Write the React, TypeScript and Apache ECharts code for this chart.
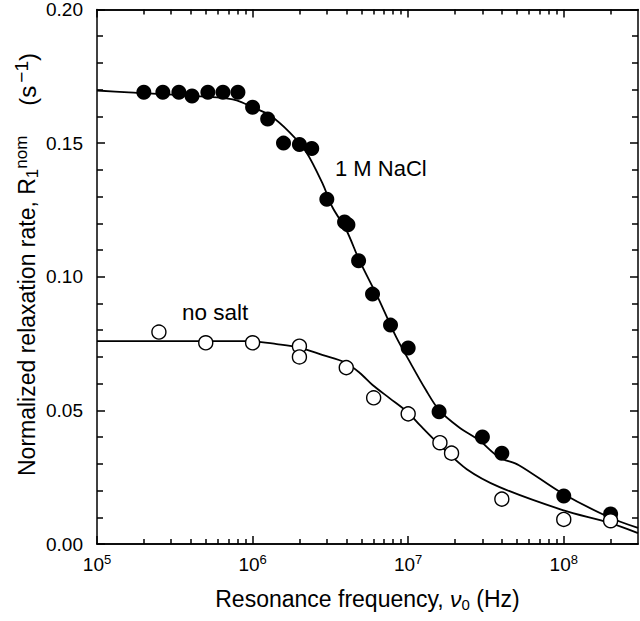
import React, { useEffect, useRef } from "react";
import * as echarts from "echarts";

// ---- Data ----
const naclFreq = [2e5, 2.65e5, 3.36e5, 4.08e5, 5.16e5, 6.45e5, 8.05e5, 1e6, 1.25e6, 1.58e6, 2e6, 2.4e6, 3e6, 3.9e6, 4.1e6, 4.8e6, 5.9e6, 7.7e6, 1e7, 1.58e7, 3e7, 4e7, 1e8, 2e8];
const naclRate = [0.169, 0.169, 0.169, 0.1676, 0.169, 0.169, 0.169, 0.1634, 0.159, 0.150, 0.1495, 0.148, 0.129, 0.1205, 0.1195, 0.106, 0.0935, 0.0819, 0.0733, 0.0495, 0.040, 0.034, 0.018, 0.0112];

const saltFreq = [2.5e5, 5e5, 1e6, 2e6, 2e6, 4e6, 6e6, 1e7, 1.6e7, 1.9e7, 4e7, 1e8, 2e8];
const saltRate = [0.0793, 0.0753, 0.0753, 0.074, 0.070, 0.066, 0.0547, 0.0487, 0.0379, 0.034, 0.0168, 0.0092, 0.0087];

const naclFitFreq = [1e5, 1.6e5, 5.9e5, 7.9e5, 1e6, 1.29e6, 1.73e6, 2.22e6, 2.81e6, 3.26e6, 4.01e6, 4.85e6, 6.05e6, 6.52e6, 8.38e6, 1.01e7, 1.3e7, 1.58e7, 2.12e7, 2.85e7, 3.83e7, 5.15e7, 9.7e7, 1.94e8, 3e8];
const naclFitRate = [0.1697, 0.169, 0.1671, 0.166, 0.1634, 0.1604, 0.154, 0.1465, 0.135, 0.126, 0.1174, 0.1062, 0.095, 0.0912, 0.0774, 0.0688, 0.0576, 0.0501, 0.0437, 0.0389, 0.0325, 0.0295, 0.0191, 0.0101, 0.006];

const saltFitFreq = [1e5, 9.5e5, 1.43e6, 1.98e6, 2.83e6, 3.92e6, 4.89e6, 5.93e6, 7.62e6, 9.93e6, 1.19e7, 1.6e7, 2.38e7, 3.87e7, 9.84e7, 1.97e8, 3e8];
const saltFitRate = [0.0759, 0.0759, 0.0748, 0.0736, 0.0707, 0.068, 0.064, 0.0594, 0.0545, 0.0493, 0.0445, 0.037, 0.028, 0.0213, 0.0127, 0.0079, 0.0041];

const xMajorTicks = [1e5, 1e6, 1e7, 1e8];
const xMinorTicks: number[] = [];
[1e5, 1e6, 1e7].forEach((d) => {
  for (let k = 2; k <= 9; k++) xMinorTicks.push(k * d);
});
xMinorTicks.push(2e8);

const FF = '"Liberation Sans", Arial, Helvetica, sans-serif';
const INK = "#000";

const zip = (a: number[], b: number[]) => a.map((v, i) => [v, b[i]]);

export default function App() {
  const ref = useRef<HTMLDivElement>(null);
  useEffect(() => {
    document.body.style.margin = "0";
    const chart = echarts.init(ref.current!, null, { renderer: "svg" });

    const tickStyle = { color: INK, width: 1.5 };
    const baseX = {
      type: "log" as const,
      logBase: 10,
      min: 1e5,
      max: 3e8,
      splitLine: { show: false },
      axisLine: { show: true, lineStyle: { color: INK, width: 1.5 } },
    };
    const baseY = {
      type: "value" as const,
      min: 0,
      max: 0.2,
      interval: 0.05,
      splitLine: { show: false },
      axisLine: { show: true, lineStyle: { color: INK, width: 1.5 } },
      axisTick: { show: true, inside: true, length: 8, lineStyle: tickStyle },
      minorTick: { show: true, splitNumber: 5, length: 6, lineStyle: tickStyle },
    };

    const option: any = {
      animation: false,
      backgroundColor: "#fff",
      textStyle: { fontFamily: FF, color: INK },
      grid: { left: 97, right: 2, top: 9, bottom: 77 },
      xAxis: [
        {
          ...baseX,
          position: "bottom",
          axisTick: { show: true, inside: true, length: 8, customValues: xMajorTicks, lineStyle: tickStyle },
          axisLabel: {
            show: true,
            customValues: xMajorTicks,
            margin: 9,
            formatter: (v: number) => `{b|10}{s|${Math.round(Math.log10(v))}}`,
            rich: {
              b: { fontSize: 19, fontFamily: FF, color: INK },
              s: { fontSize: 13, fontFamily: FF, color: INK, padding: [0, 0, 9, 0] },
            },
          },
          name: "Resonance frequency, {i|ν}{sub|0} (Hz)",
          nameLocation: "middle",
          nameGap: 42,
          nameTextStyle: {
            fontSize: 23,
            fontFamily: FF,
            color: INK,
            rich: {
              i: { fontSize: 23, fontFamily: FF, fontStyle: "italic", color: INK },
              sub: { fontSize: 15, fontFamily: FF, color: INK, padding: [11, 0, 0, 0] },
            },
          },
        },
        {
          ...baseX,
          position: "bottom",
          axisTick: { show: true, inside: true, length: 5, customValues: xMinorTicks, lineStyle: tickStyle },
          axisLabel: { show: false },
        },
        {
          ...baseX,
          position: "top",
          axisTick: { show: true, inside: true, length: 8, customValues: xMajorTicks, lineStyle: tickStyle },
          axisLabel: { show: false },
        },
        {
          ...baseX,
          position: "top",
          axisTick: { show: true, inside: true, length: 5, customValues: xMinorTicks, lineStyle: tickStyle },
          axisLabel: { show: false },
        },
      ],
      yAxis: [
        {
          ...baseY,
          position: "left",
          axisLabel: {
            show: true,
            margin: 14,
            fontSize: 19,
            fontFamily: FF,
            color: INK,
            formatter: (v: number) => v.toFixed(2),
          },
        },
        {
          ...baseY,
          position: "right",
          axisLabel: { show: false },
        },
      ],
      graphic: [
        {
          type: "text",
          x: 27,
          y: 476,
          rotation: Math.PI / 2,
          style: {
            text: "Normalized relaxation rate, R{sub|1}{sup|nom}{g| }{p|(s}{sup2|−1}{p|)}",
            fontSize: 23,
            fontFamily: FF,
            fill: INK,
            align: "left",
            verticalAlign: "middle",
            rich: {
              sub: { fontSize: 17, fontFamily: FF, fill: INK, padding: [11, 0, 0, 0] },
              sup: { fontSize: 17, fontFamily: FF, fill: INK, padding: [0, 0, 11, 0] },
              g: { fontSize: 23, fontFamily: FF, fill: INK, width: 30 },
              p: { fontSize: 24, fontFamily: FF, fill: INK },
              sup2: { fontSize: 19, fontFamily: FF, fill: INK, padding: [0, 0, 11, 3] },
            },
          },
        },
        {
          type: "text",
          x: 335,
          y: 168,
          style: { text: "1 M NaCl", fontSize: 22, fontFamily: FF, fill: INK, align: "left", verticalAlign: "middle" },
        },
        {
          type: "text",
          x: 182,
          y: 312,
          style: { text: "no salt", fontSize: 22.5, fontFamily: FF, fill: INK, align: "left", verticalAlign: "middle" },
        },
      ],
      series: [
        {
          type: "line",
          data: zip(naclFitFreq, naclFitRate),
          showSymbol: false,
          smooth: 0.3,
          lineStyle: { color: INK, width: 1.8 },
          z: 2,
          silent: true,
        },
        {
          type: "line",
          data: zip(saltFitFreq, saltFitRate),
          showSymbol: false,
          smooth: 0.3,
          lineStyle: { color: INK, width: 1.8 },
          z: 2,
          silent: true,
        },
        {
          type: "scatter",
          data: zip(naclFreq, naclRate),
          symbol: "circle",
          symbolSize: 15,
          itemStyle: { color: INK, opacity: 1 },
          z: 3,
        },
        {
          type: "scatter",
          data: zip(saltFreq, saltRate),
          symbol: "circle",
          symbolSize: 14,
          itemStyle: { color: "#fff", borderColor: INK, borderWidth: 1.4, opacity: 1 },
          z: 3,
        },
      ],
    };
    chart.setOption(option);
    return () => chart.dispose();
  }, []);
  return <div ref={ref} style={{ width: 640, height: 621 }} />;
}
